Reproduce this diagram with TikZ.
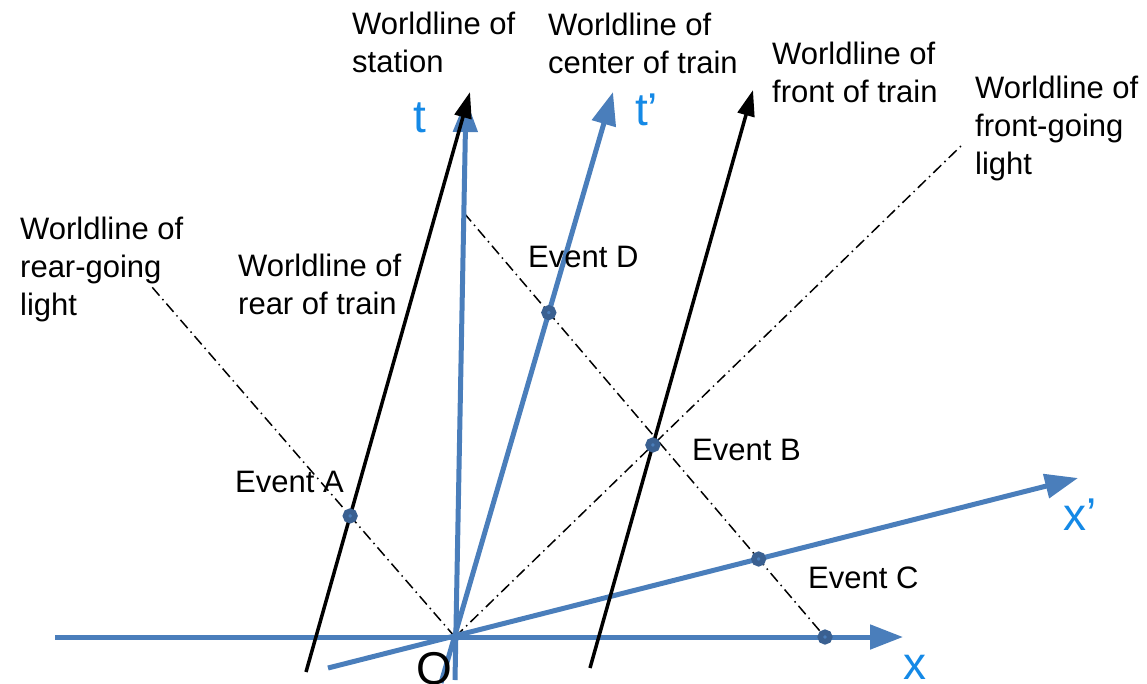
\documentclass[tikz,border=0pt]{standalone}
\usepackage{fontspec}
\setmainfont{Liberation Sans}
\usetikzlibrary{arrows.meta}
\definecolor{axisblue}{RGB}{74,126,187}
\definecolor{labelblue}{RGB}{20,137,230}
\definecolor{eventblue}{RGB}{58,96,145}

\begin{document}
\begin{tikzpicture}[x=1pt, y=-1pt,
    axis/.style={axisblue, line width=5pt, -{Triangle[length=33pt, width=24pt]}},
    wline/.style={black, line width=3.5pt, -{Triangle[length=26pt, width=17pt]}},
    light/.style={black, line width=1.5pt, dash pattern=on 11pt off 4.5pt on 1.5pt off 4.5pt},
    event/.style={circle, draw=eventblue, line width=5.5pt, fill=axisblue, minimum size=9.5pt, inner sep=0pt},
    lbl/.style={font=\fontsize{31}{38}\selectfont, align=left, inner sep=0pt, anchor=base west},
    axlbl/.style={labelblue, font=\fontsize{46}{46}\selectfont, inner sep=0pt, anchor=base west}]
  \useasboundingbox (0,0) rectangle (1147,683);
  % origin and end points
  \coordinate (O) at (455,637);
  \coordinate (xL) at (55,637);    \coordinate (xR) at (903,637);
  \coordinate (tB) at (455,680);   \coordinate (tT) at (466,99);
  \coordinate (tpB) at (441,683);  \coordinate (tpT) at (613,92);
  \coordinate (xpL) at (328,668);  \coordinate (xpR) at (1078,478);
  \coordinate (rearB) at (306,672);  \coordinate (rearT) at (470,92);
  \coordinate (frontB) at (590,668); \coordinate (frontT) at (753,90);
  \coordinate (rglEnd) at (152,287); \coordinate (fglEnd) at (962,145);
  \coordinate (reflT) at (464,213);  \coordinate (reflB) at (825,637);

  % light rays
  \draw[light] (O) -- (rglEnd);
  \draw[light] (O) -- (fglEnd);
  \draw[light] (reflT) -- (reflB);

  % axes
  \draw[axis] (xL) -- (xR);
  \draw[axis] (xpL) -- (xpR);
  \draw[axis] (tB) -- (tT);
  \draw[axis] (tpB) -- (tpT);

  % ends of the train
  \draw[wline] (rearB) -- (rearT);
  \draw[wline] (frontB) -- (frontT);

  % events
  \node[event] (evA) at (intersection of rearB--rearT and O--rglEnd) {};
  \node[event] (evD) at (intersection of tpB--tpT and reflT--reflB) {};
  \node[event] (evB) at (intersection of frontB--frontT and O--fglEnd) {};
  \node[event] (evC) at (intersection of xpL--xpR and reflT--reflB) {};
  \node[event] (evE) at (reflB) {};

  \node[lbl] (lblA) at (235,492) {Event A};
  \node[lbl] (lblD) at (528,267) {Event D};
  \node[lbl] (lblB) at (692,460) {Event B};
  \node[lbl] (lblC) at (808,588) {Event C};

  % base is the last line of each label
  \node[lbl] (lblStation) at (352,72) {Worldline of\\station};
  \node[lbl] (lblCenter) at (548,73) {Worldline of\\center of train};
  \node[lbl] (lblFront) at (772,102) {Worldline of\\front of train};
  \node[lbl] (lblFgl) at (975,174) {Worldline of\\front-going\\light};
  \node[lbl] (lblRgl) at (20,315) {Worldline of\\rear-going\\light};
  \node[lbl] (lblRear) at (238,314) {Worldline of\\rear of train};

  \node[axlbl] (lblT) at (413,132) {t};
  \node[axlbl] (lblTp) at (635,125) {t’};
  \node[axlbl] (lblXp) at (1063,530) {x’};
  \node[axlbl] (lblX) at (903,679) {x};
  \node[axlbl, black] (lblO) at (416,684) {O};
\end{tikzpicture}
\end{document}
